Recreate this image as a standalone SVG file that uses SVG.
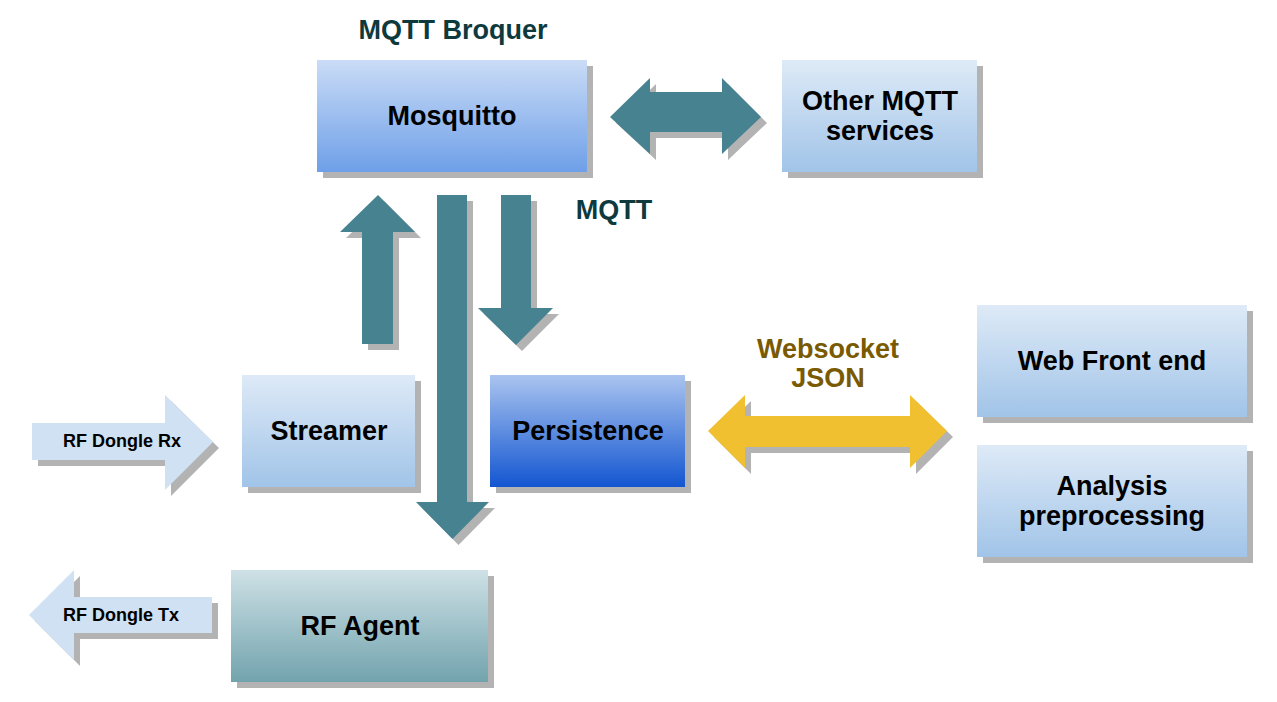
<svg xmlns="http://www.w3.org/2000/svg" width="1277" height="702" viewBox="0 0 1277 702">
<defs>
<linearGradient id="gMos" x1="0" y1="0" x2="0" y2="1"><stop offset="0" stop-color="#cadcf6"/><stop offset="1" stop-color="#6e9fe8"/></linearGradient>
<linearGradient id="gLight" x1="0" y1="0" x2="0" y2="1"><stop offset="0" stop-color="#deeaf7"/><stop offset="1" stop-color="#a1c4e8"/></linearGradient>
<linearGradient id="gPers" x1="0" y1="0" x2="0" y2="1"><stop offset="0" stop-color="#aac4ef"/><stop offset="1" stop-color="#1356d1"/></linearGradient>
<linearGradient id="gAgent" x1="0" y1="0" x2="0" y2="1"><stop offset="0" stop-color="#cee1e6"/><stop offset="1" stop-color="#72a3ad"/></linearGradient>
</defs>
<style>
.sh{fill:#b3b3b3}
.lbl{font-family:"Liberation Sans",Arial,sans-serif;font-weight:bold;font-size:27px;text-anchor:middle;fill:#000}
.small{font-family:"Liberation Sans",Arial,sans-serif;font-weight:bold;font-size:18px;text-anchor:middle;fill:#000}
.teal{fill:#468290}
.dark{fill:#0e3a3e}
.gold{fill:#7a5a00}
</style>
<rect width="1277" height="702" fill="#fff"/>
<text class="lbl dark" x="453" y="39">MQTT Broquer</text>
<text class="lbl dark" x="614" y="219">MQTT</text>
<text class="lbl gold" x="828" y="358">Websocket</text>
<text class="lbl gold" x="828" y="387">JSON</text>
<g id="connectors">
<g id="mqtt-up">
<polygon class="sh" transform="translate(6,6)" points="378,195 415,232 393,232 393,344 362,344 362,232 340,232"/>
<polygon class="teal" points="378,195 415,232 393,232 393,344 362,344 362,232 340,232"/>
</g>
<g id="mqtt-down-agent">
<polygon class="sh" transform="translate(6,6)" points="437,195 467,195 467,502 489,502 452.5,539 416,502 437,502"/>
<polygon class="teal" points="437,195 467,195 467,502 489,502 452.5,539 416,502 437,502"/>
</g>
<g id="mqtt-down-persist">
<polygon class="sh" transform="translate(6,6)" points="501,195 531,195 531,308 553,308 516,345 478,308 501,308"/>
<polygon class="teal" points="501,195 531,195 531,308 553,308 516,345 478,308 501,308"/>
</g>
<g id="mqtt-other">
<polygon class="sh" transform="translate(6,6)" points="610,117 650,78 650,92 722,92 722,78 761,117 722,154 722,132 650,132 650,154"/>
<polygon class="teal" points="610,117 650,78 650,92 722,92 722,78 761,117 722,154 722,132 650,132 650,154"/>
</g>
<g id="websocket">
<polygon class="sh" transform="translate(6,6)" points="708,431 745,395 745,416 910,416 910,395 947,431 910,468 910,447 745,447 745,468"/>
<polygon fill="#f0c030" points="708,431 745,395 745,416 910,416 910,395 947,431 910,468 910,447 745,447 745,468"/>
</g>
<g id="rf-rx">
<polygon class="sh" transform="translate(6,6)" points="32,423 165,423 165,395 213,442 165,490 165,460 32,460"/>
<polygon fill="#cfe1f3" points="32,423 165,423 165,395 213,442 165,490 165,460 32,460"/>
<text class="small" x="122" y="447">RF Dongle Rx</text>
</g>
<g id="rf-tx">
<polygon class="sh" transform="translate(6,6)" points="29,615 74,570 74,597 212,597 212,633 74,633 74,660"/>
<polygon fill="#cfe1f3" points="29,615 74,570 74,597 212,597 212,633 74,633 74,660"/>
<text class="small" x="121" y="621">RF Dongle Tx</text>
</g>
</g>
<g id="mosquitto">
<rect class="sh" x="323" y="66" width="270" height="112"/>
<rect x="317" y="60" width="270" height="112" fill="url(#gMos)"/>
<text class="lbl" x="452" y="125">Mosquitto</text>
</g>
<g id="other-mqtt">
<rect class="sh" x="788" y="66" width="195" height="112"/>
<rect x="782" y="60" width="195" height="112" fill="url(#gLight)"/>
<text class="lbl" x="880" y="110">Other MQTT</text>
<text class="lbl" x="880" y="140">services</text>
</g>
<g id="streamer">
<rect class="sh" x="248" y="381" width="173" height="112"/>
<rect x="242" y="375" width="173" height="112" fill="url(#gLight)"/>
<text class="lbl" x="329" y="440">Streamer</text>
</g>
<g id="persistence">
<rect class="sh" x="496" y="381" width="195" height="112"/>
<rect x="490" y="375" width="195" height="112" fill="url(#gPers)"/>
<text class="lbl" x="588" y="440">Persistence</text>
</g>
<g id="rf-agent">
<rect class="sh" x="237" y="576" width="257" height="112"/>
<rect x="231" y="570" width="257" height="112" fill="url(#gAgent)"/>
<text class="lbl" x="360" y="635">RF Agent</text>
</g>
<g id="web-front-end">
<rect class="sh" x="983" y="311" width="270" height="112"/>
<rect x="977" y="305" width="270" height="112" fill="url(#gLight)"/>
<text class="lbl" x="1112" y="370">Web Front end</text>
</g>
<g id="analysis">
<rect class="sh" x="983" y="451" width="270" height="112"/>
<rect x="977" y="445" width="270" height="112" fill="url(#gLight)"/>
<text class="lbl" x="1112" y="495">Analysis</text>
<text class="lbl" x="1112" y="525">preprocessing</text>
</g>
</svg>
